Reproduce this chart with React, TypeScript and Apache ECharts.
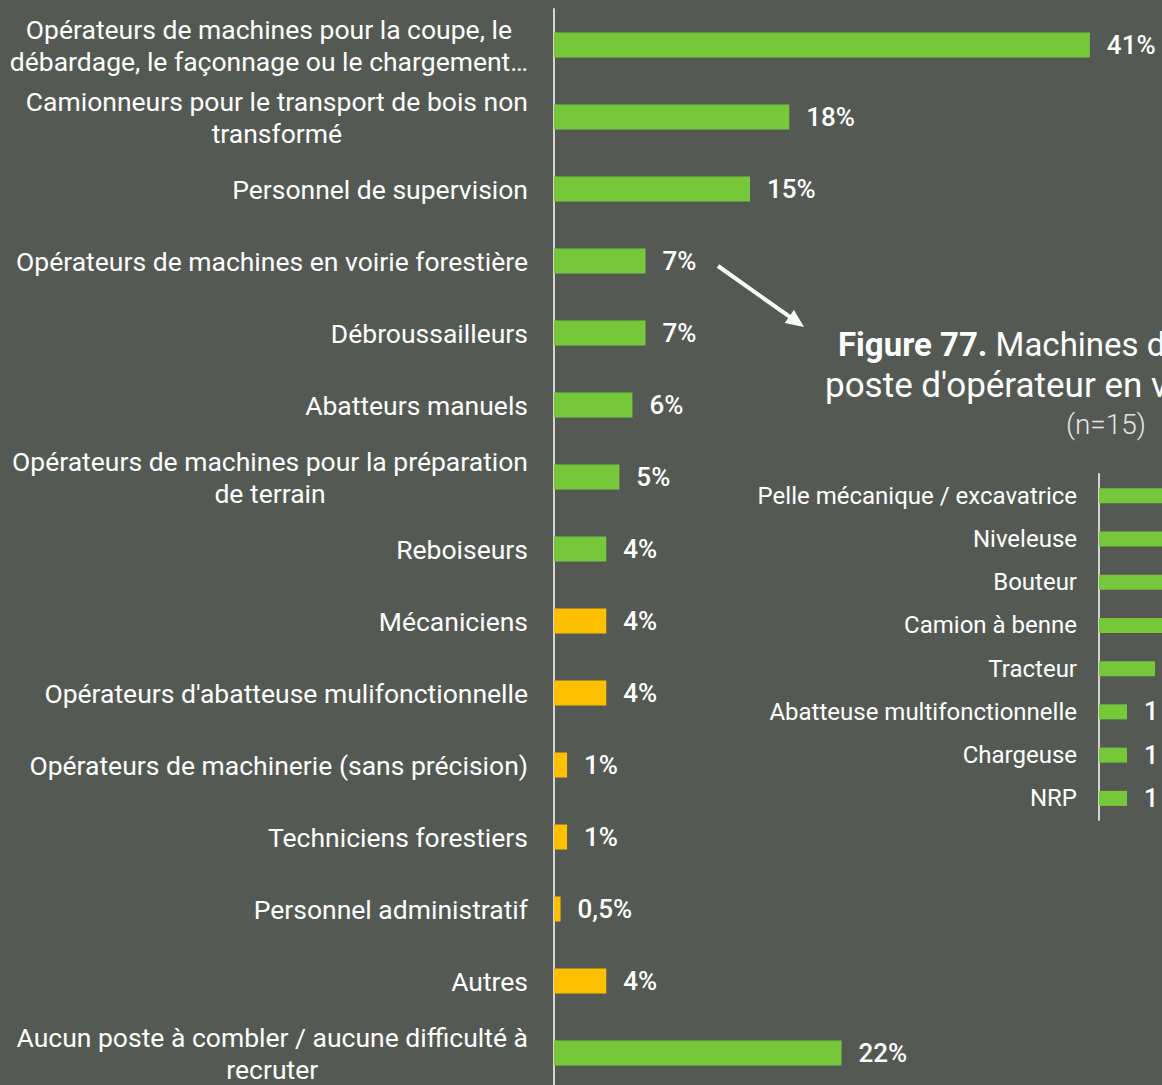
import React, { useEffect, useRef } from "react";
import * as echarts from "echarts";

// Postes difficiles à pourvoir (% des répondants)
const postes: string[] = [
  "Opérateurs de machines pour la coupe, le\ndébardage, le façonnage ou le chargement…",
  "Camionneurs pour le transport de bois non\ntransformé",
  "Personnel de supervision",
  "Opérateurs de machines en voirie forestière",
  "Débroussailleurs",
  "Abatteurs manuels",
  "Opérateurs de machines pour la préparation\nde terrain",
  "Reboiseurs",
  "Mécaniciens",
  "Opérateurs d'abatteuse mulifonctionnelle",
  "Opérateurs de machinerie (sans précision)",
  "Techniciens forestiers",
  "Personnel administratif",
  "Autres",
  "Aucun poste à combler / aucune difficulté à\nrecruter",
];
const pourcentages: number[] = [41, 18, 15, 7, 7, 6, 5, 4, 4, 4, 1, 1, 0.5, 4, 22];
// Postes mis en évidence (deuxième groupe)
const postesSecondaires: string[] = [
  "Mécaniciens",
  "Opérateurs d'abatteuse mulifonctionnelle",
  "Opérateurs de machinerie (sans précision)",
  "Techniciens forestiers",
  "Personnel administratif",
  "Autres",
];

// Figure 77 : machines, opérateur en voirie forestière (n=15)
const machines: string[] = [
  "Pelle mécanique / excavatrice",
  "Niveleuse",
  "Bouteur",
  "Camion à benne",
  "Tracteur",
  "Abatteuse multifonctionnelle",
  "Chargeuse",
  "NRP",
];
const nbMentions: number[] = [7, 5, 4, 3, 2, 1, 1, 1];

const titreLigne1Gras = "Figure 77.";
const titreLigne1 = " Machines demandées au";
const titreLigne2 = "poste d'opérateur en voirie forestière";
const titreN = "(n=15)";

const BG = "#545a53";
const GREEN = "#76c83a";
const YELLOW = "#ffc000";
const AXIS = "#d4d4d4";
const FONT = "Roboto, 'Noto Sans', sans-serif";

function richLabel(value: string): string {
  return value
    .split("\n")
    .map((l) => `{c|${l}}`)
    .join("\n");
}

export default function App() {
  const ref = useRef<HTMLDivElement>(null);

  useEffect(() => {
    if (!ref.current) return;
    const chart = echarts.init(ref.current, null, { renderer: "svg" });

    const mainData = pourcentages.map((v, i) => ({
      value: v,
      itemStyle: {
        color: postesSecondaires.includes(postes[i]) ? YELLOW : GREEN,
      },
    }));

    // arrow from the "7%" label toward the figure title
    const ax0 = 718, ay0 = 266, ax1 = 804, ay1 = 327;
    const len = Math.hypot(ax1 - ax0, ay1 - ay0);
    const dx = (ax1 - ax0) / len, dy = (ay1 - ay0) / len;
    const headL = 18, headW = 8;
    const bx = ax1 - dx * headL, by = ay1 - dy * headL;

    chart.setOption({
      animation: false,
      backgroundColor: BG,
      textStyle: { fontFamily: FONT },
      grid: [
        { left: 554, top: 9, width: 45 * 13.07, height: 1080 },
        { left: 1099, top: 474, width: 280, height: 346 },
      ],
      xAxis: [
        { type: "value", gridIndex: 0, min: 0, max: 45, show: false },
        { type: "value", gridIndex: 1, min: 0, max: 10, show: false },
      ],
      yAxis: [
        {
          type: "category",
          gridIndex: 0,
          data: postes,
          inverse: true,
          axisLine: { show: true, lineStyle: { color: AXIS, width: 2 } },
          axisTick: { show: false },
          splitLine: { show: false },
          axisLabel: {
            color: "#ffffff",
            fontSize: 26.5,
            lineHeight: 32,
            margin: 26,
            fontFamily: FONT,
            formatter: richLabel,
            rich: {
              c: {
                align: "center",
                color: "#ffffff",
                fontSize: 26.5,
                lineHeight: 32,
                fontFamily: FONT,
              },
            },
          },
        },
        {
          type: "category",
          gridIndex: 1,
          data: machines,
          inverse: true,
          axisLine: { show: true, lineStyle: { color: AXIS, width: 2 } },
          axisTick: { show: false },
          splitLine: { show: false },
          axisLabel: {
            color: "#ffffff",
            fontSize: 24,
            margin: 22,
            fontFamily: FONT,
          },
        },
      ],
      series: [
        {
          type: "bar",
          xAxisIndex: 0,
          yAxisIndex: 0,
          data: mainData,
          barWidth: 25,
          label: {
            show: true,
            position: "right",
            distance: 17,
            color: "#ffffff",
            fontSize: 26,
            fontWeight: 500,
            fontFamily: FONT,
            formatter: (p: any) => String(p.value).replace(".", ",") + "%",
          },
        },
        {
          type: "bar",
          xAxisIndex: 1,
          yAxisIndex: 1,
          data: nbMentions,
          barWidth: 15,
          itemStyle: { color: GREEN },
          label: {
            show: true,
            position: "right",
            distance: 17,
            color: "#ffffff",
            fontSize: 25,
            fontWeight: 500,
            fontFamily: FONT,
          },
        },
      ],
      graphic: [
        {
          type: "text",
          x: 838,
          y: 344,
          style: {
            text: `{b|${titreLigne1Gras}}{r|${titreLigne1}}`,
            textAlign: "left",
            textVerticalAlign: "middle",
            rich: {
              b: { fontSize: 33, fontWeight: "bold", fill: "#ffffff", fontFamily: FONT },
              r: { fontSize: 33, fontWeight: "normal", fill: "#ffffff", fontFamily: FONT },
            },
          },
        },
        {
          type: "text",
          x: 825,
          y: 385,
          style: {
            text: titreLigne2,
            textAlign: "left",
            textVerticalAlign: "middle",
            fontSize: 35,
            fill: "#ffffff",
            fontFamily: FONT,
          },
        },
        {
          type: "text",
          x: 1106,
          y: 424,
          style: {
            text: titreN,
            textAlign: "center",
            textVerticalAlign: "middle",
            fontSize: 28,
            fontWeight: 300,
            fill: "#e6e6e6",
            fontFamily: FONT,
          },
        },
        {
          type: "line",
          shape: { x1: ax0, y1: ay0, x2: bx + dx * 2, y2: by + dy * 2 },
          style: { stroke: "#ffffff", lineWidth: 4 },
        },
        {
          type: "polygon",
          shape: {
            points: [
              [ax1, ay1],
              [bx - dy * headW, by + dx * headW],
              [bx + dy * headW, by - dx * headW],
            ],
          },
          style: { fill: "#ffffff" },
        },
      ],
    });

    return () => chart.dispose();
  }, []);

  return (
    <div
      style={{
        position: "fixed",
        left: 0,
        top: 0,
        width: 1162,
        height: 1085,
        overflow: "hidden",
        background: BG,
      }}
    >
      <div ref={ref} style={{ width: 1400, height: 1100 }} />
    </div>
  );
}
